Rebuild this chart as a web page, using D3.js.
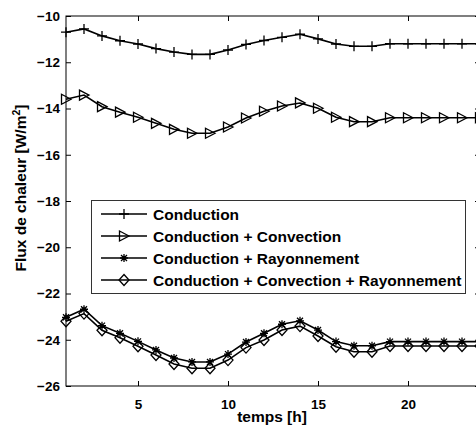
<!DOCTYPE html>
<html>
<head>
<meta charset="utf-8">
<script src="https://cdnjs.cloudflare.com/ajax/libs/d3/7.8.5/d3.min.js"></script>
<style>
  body { margin: 0; background: #fff; }
  text { font-family: "Liberation Sans", Arial, sans-serif; font-weight: bold; fill: #000; }
</style>
</head>
<body>
<div id="chart"></div>
<script>
// data
var hours = [1, 2, 3, 4, 5, 6, 7, 8, 9, 10, 11, 12, 13, 14, 15, 16, 17, 18, 19, 20, 21, 22, 23, 24]
var conduction = [-10.70, -10.56, -10.86, -11.07, -11.21, -11.41, -11.56, -11.66, -11.66, -11.47, -11.23, -11.06,
                  -10.92, -10.79, -10.99, -11.21, -11.31, -11.31, -11.20, -11.20, -11.20, -11.20, -11.20, -11.20]
var convection = [-13.60, -13.42, -13.92, -14.16, -14.38, -14.64, -14.90, -15.07, -15.07, -14.80, -14.41, -14.12,
                  -13.89, -13.76, -13.99, -14.38, -14.57, -14.57, -14.40, -14.40, -14.40, -14.40, -14.40, -14.40]
var rayonnement = [-23.03, -22.68, -23.39, -23.72, -24.07, -24.44, -24.79, -24.96, -24.96, -24.62, -24.10, -23.72,
                   -23.33, -23.18, -23.58, -24.08, -24.26, -24.26, -24.08, -24.08, -24.08, -24.08, -24.08, -24.08]
var total = [-23.20, -22.87, -23.59, -23.91, -24.28, -24.66, -25.05, -25.23, -25.23, -24.88, -24.34, -24.01,
             -23.58, -23.41, -23.84, -24.30, -24.52, -24.52, -24.27, -24.27, -24.27, -24.27, -24.27, -24.27]
var seriesNames = ["Conduction", "Conduction + Convection", "Conduction + Rayonnement", "Conduction + Convection + Rayonnement"]
var seriesValues = [conduction, convection, rayonnement, total]
var seriesMarkers = ["plus", "triangle", "star", "diamond"]
var xTicks = [5, 10, 15, 20]
var yTicks = [-26, -24, -22, -20, -18, -16, -14, -12, -10]

var width = 476,
    height = 427
var margin = {top: 16, left: 66, bottom: 41, right: -4}

var svg = d3.select("#chart")
  .append("svg")
    .attr("width", width)
    .attr("height", height)

var x = d3.scaleLinear()
    .domain([1, 24])
    .range([margin.left, width - margin.right])
var y = d3.scaleLinear()
    .domain([-26, -10])
    .range([height - margin.bottom, margin.top])

// marker shapes, unfilled like matlab
var markerPath = {
  plus: "M-5,0H5M0,-5V5",
  triangle: "M5,0L-4.5,-5L-4.5,5Z",
  star: "M-4,0H4M0,-4V4M-3,-3L3,3M-3,3L3,-3",
  diamond: "M0,-5.5L5,0L0,5.5L-5,0Z"
}

var line = d3.line()
    .x(function(d, i) { return x(hours[i]) })
    .y(function(d) { return y(d) })

seriesValues.forEach(function(vals, k) {
  svg.append("path")
    .attr("d", line(vals))
    .attr("fill", "none")
    .attr("stroke", "#000")
    .attr("stroke-width", 1.6)
  svg.selectAll(".m" + k)
    .data(vals)
    .enter()
    .append("path")
    .attr("class", "m" + k)
    .attr("transform", function(d, i) { return "translate(" + x(hours[i]) + "," + y(d) + ")" })
    .attr("d", markerPath[seriesMarkers[k]])
    .attr("fill", "none")
    .attr("stroke", "#000")
    .attr("stroke-width", 1.3)
})

// axes, ticks inward on all four sides
var x0 = x.range()[0], x1 = x.range()[1], y0 = y.range()[0], y1 = y.range()[1]
svg.append("rect")
    .attr("x", x0).attr("y", y1)
    .attr("width", x1 - x0).attr("height", y0 - y1)
    .attr("fill", "none").attr("stroke", "#000").attr("stroke-width", 1)

svg.append("g")
    .attr("transform", "translate(0," + y0 + ")")
    .call(d3.axisBottom(x).tickValues(xTicks).tickSize(-5).tickPadding(13))
svg.append("g")
    .attr("transform", "translate(0," + y1 + ")")
    .call(d3.axisTop(x).tickValues(xTicks).tickSize(-5).tickFormat(""))
svg.append("g")
    .attr("transform", "translate(" + x0 + ",0)")
    .call(d3.axisLeft(y).tickValues(yTicks).tickSize(-5).tickPadding(6).tickFormat(d3.format("d")))
svg.append("g")
    .attr("transform", "translate(" + x1 + ",0)")
    .call(d3.axisRight(y).tickValues(yTicks).tickSize(-5).tickFormat(""))

svg.selectAll(".domain").remove()
svg.selectAll(".tick line").attr("stroke", "#000")
svg.selectAll(".tick text")
    .style("font-size", "13.5px")
    .style("font-family", "'Liberation Sans', Arial, sans-serif")
    .style("font-weight", "bold")
    .attr("fill", "#000")

// axis titles
svg.append("text")
    .attr("x", 272)
    .attr("y", 422)
    .attr("text-anchor", "middle")
    .style("font-size", "15.5px")
    .text("temps [h]")

var yl = svg.append("text")
    .attr("transform", "translate(26,188) rotate(-90)")
    .attr("text-anchor", "middle")
    .style("font-size", "15.5px")
yl.append("tspan").text("Flux de chaleur [W/m")
yl.append("tspan").attr("dy", -6).style("font-size", "10.5px").text("2")
yl.append("tspan").attr("dy", 6).text("]")

// legend
var legend = svg.append("g")
legend.append("rect")
    .attr("x", 91.5).attr("y", 200.5)
    .attr("width", 374).attr("height", 93)
    .attr("fill", "#fff").attr("stroke", "#333").attr("stroke-width", 1)

seriesNames.forEach(function(name, k) {
  var ly = 214 + k * 22
  legend.append("line")
    .attr("x1", 101).attr("x2", 147)
    .attr("y1", ly).attr("y2", ly)
    .attr("stroke", "#000").attr("stroke-width", 1.3)
  legend.append("path")
    .attr("transform", "translate(124," + ly + ")")
    .attr("d", markerPath[seriesMarkers[k]])
    .attr("fill", "none").attr("stroke", "#000").attr("stroke-width", 1.3)
  legend.append("text")
    .attr("x", 153)
    .attr("y", ly + 5.5)
    .style("font-size", "15.5px")
    .text(name)
})
</script>
</body>
</html>
